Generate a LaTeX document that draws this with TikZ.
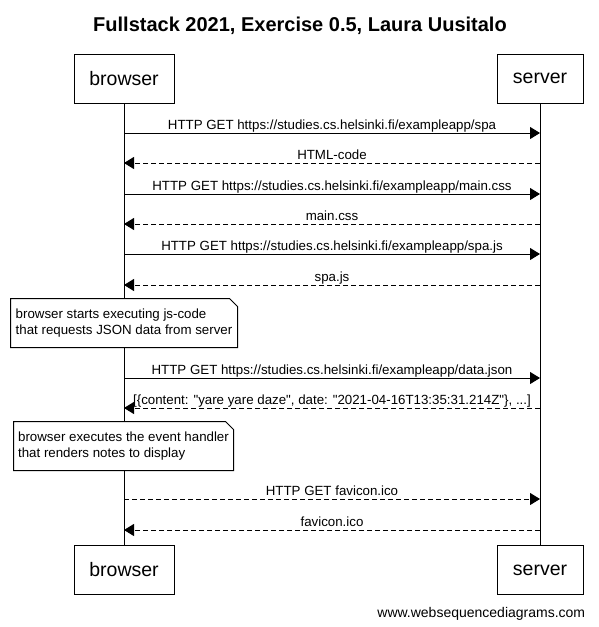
\documentclass[tikz,border=0pt]{standalone}
\usepackage{fontspec}
\setmainfont{Liberation Sans}[Ligatures=TeXOff]
\usetikzlibrary{arrows.meta}

\begin{document}
\begin{tikzpicture}[x=1pt, y=-1pt, line width=1pt,
    every node/.style={font=\fontsize{13.3}{15.6}\selectfont},
    actor/.style={draw, rectangle, fill=white, minimum height=49pt, inner sep=0pt, font=\fontsize{19.5}{23}\selectfont},
    msg/.style={-{Triangle[length=10pt, width=12pt]}},
    reply/.style={msg, dash pattern=on 5pt off 3pt},
    lbl/.style={anchor=base, yshift=4pt, inner sep=0pt},
    note/.style={fill=white, minimum height=48pt, inner sep=0pt, align=left}]
    \useasboundingbox (0,0) rectangle (598,627);

    % Title
    \node[anchor=base, font=\bfseries\fontsize{20}{24}\selectfont] (title) at (300,31) {Fullstack 2021, Exercise 0.5, Laura Uusitalo};

    % Participants
    \node[actor, minimum width=100pt] (browser) at (124,78.5) {browser};
    \node[actor, minimum width=86pt] (server) at (540,78.5) {server};
    \node[actor, minimum width=100pt] (browser2) at (124,570) {browser};
    \node[actor, minimum width=86pt] (server2) at (540,570) {server};

    % Lifelines
    \draw (browser) -- (browser2);
    \draw (server) -- (server2);

    % Message levels
    \foreach \y [count=\i] in {133,163,194,224,254,285,378,408,499,530} {
        \coordinate (b\i) at (browser.south |- 0,\y);
        \coordinate (s\i) at (server.south |- 0,\y);
    }

    % Messages
    \draw[msg] (b1) -- node[lbl] {HTTP GET https://studies.cs.helsinki.fi/exampleapp/spa} (s1);
    \draw[reply] (s2) -- node[lbl] {HTML-code} (b2);
    \draw[msg] (b3) -- node[lbl] {HTTP GET https://studies.cs.helsinki.fi/exampleapp/main.css} (s3);
    \draw[reply] (s4) -- node[lbl] {main.css} (b4);
    \draw[msg] (b5) -- node[lbl] {HTTP GET https://studies.cs.helsinki.fi/exampleapp/spa.js} (s5);
    \draw[reply] (s6) -- node[lbl] {spa.js} (b6);

    % Note 1
    \node[note, minimum width=226pt] (note1) at (124,323) {browser starts executing js-code\\that requests JSON data from server};
    \draw (note1.south west) -- (note1.north west) -- ([xshift=-8pt]note1.north east) -- ([yshift=-8pt]note1.north east) -- (note1.south east) -- cycle;

    \draw[msg] (b7) -- node[lbl] {HTTP GET https://studies.cs.helsinki.fi/exampleapp/data.json} (s7);
    \draw[reply] (s8) -- node[lbl] {[\{content: "yare yare daze", date: "2021-04-16T13:35:31.214Z"\}, ...]} (b8);

    % Note 2
    \node[note, minimum width=219pt] (note2) at (123.5,446) {browser executes the event handler\\that renders notes to display};
    \draw (note2.south west) -- (note2.north west) -- ([xshift=-8pt]note2.north east) -- ([yshift=-8pt]note2.north east) -- (note2.south east) -- cycle;

    \draw[reply] (b9) -- node[lbl] {HTTP GET favicon.ico} (s9);
    \draw[reply] (s10) -- node[lbl] {favicon.ico} (b10);

    % Footer
    \node[anchor=base east, font=\fontsize{14}{17}\selectfont] (footer) at (589,617) {www.websequencediagrams.com};
\end{tikzpicture}
\end{document}
